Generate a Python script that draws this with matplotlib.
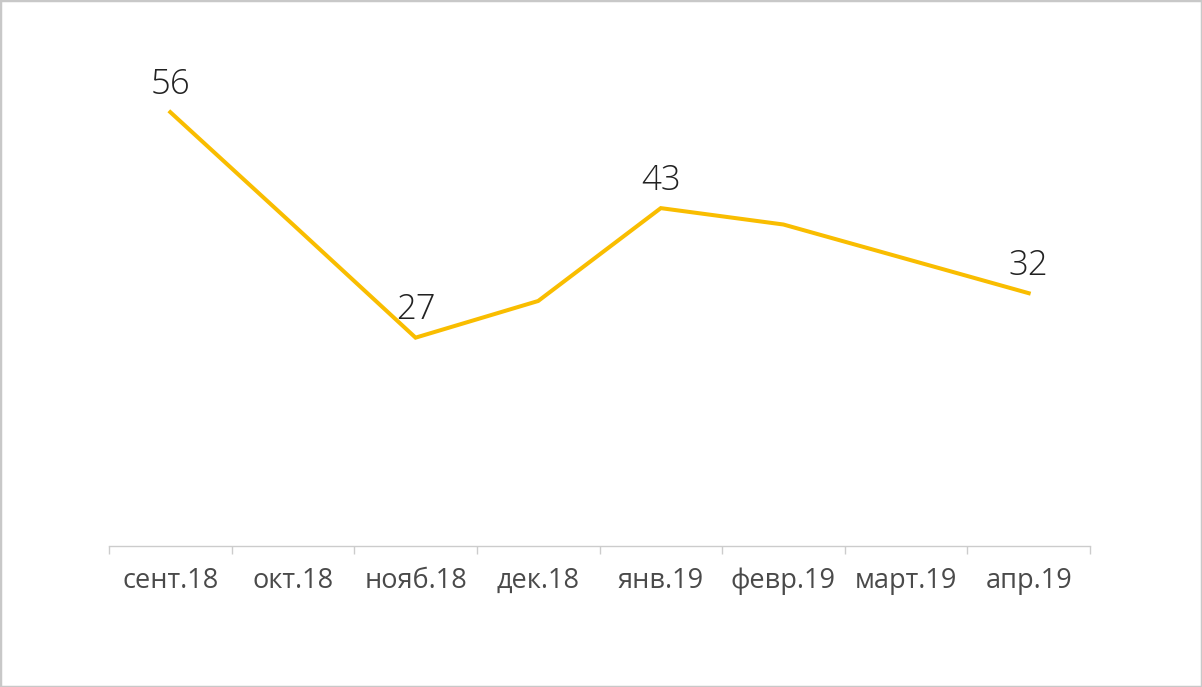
import matplotlib.pyplot as plt
from matplotlib.patches import Rectangle

months = ['сент.18', 'окт.18', 'нояб.18', 'дек.18', 'янв.19', 'февр.19', 'март.19', 'апр.19']
values = [55.6, 41.2, 26.7, 31.4, 43.3, 41.2, 36.8, 32.4]
shown = {0: '56', 2: '27', 4: '43', 7: '32'}

plt.rcParams['font.family'] = ['Open Sans', 'DejaVu Sans']

fig = plt.figure(figsize=(12.02, 6.87), dpi=100)
ax = fig.add_axes([109 / 1202, 141 / 687, 981 / 1202, 515 / 687])

x = list(range(len(months)))
ax.plot(x, values, color='#f9bd00', linewidth=2.9, solid_joinstyle='miter')

# numbers above the points that carry a label
for i, txt in shown.items():
    ax.annotate(txt, (x[i], values[i]), xytext=(0, 20), textcoords='offset points',
                ha='center', va='center', fontsize=25, color='#222222', fontweight='light')

ax.set_xlim(-0.5, len(months) - 0.5)
ax.set_ylim(0, 66)

for s in ['top', 'right', 'left']:
    ax.spines[s].set_visible(False)
ax.spines['bottom'].set_color('#cccccc')
ax.spines['bottom'].set_linewidth(1.0)
ax.set_yticks([])

ax.set_xticks(x)
ax.set_xticklabels(months, fontsize=19.5, color='#4a4a4a')
ax.tick_params(axis='x', which='major', length=0, pad=15)
ax.set_xticks([i - 0.5 for i in range(len(months) + 1)], minor=True)
ax.tick_params(axis='x', which='minor', length=6, width=1.0, color='#cccccc', direction='out')

fig.patches.append(Rectangle((0, 0), 1, 1, transform=fig.transFigure, fill=False,
                             edgecolor='#c8c8c8', linewidth=2.5))

fig.savefig('out.png', dpi=100)
